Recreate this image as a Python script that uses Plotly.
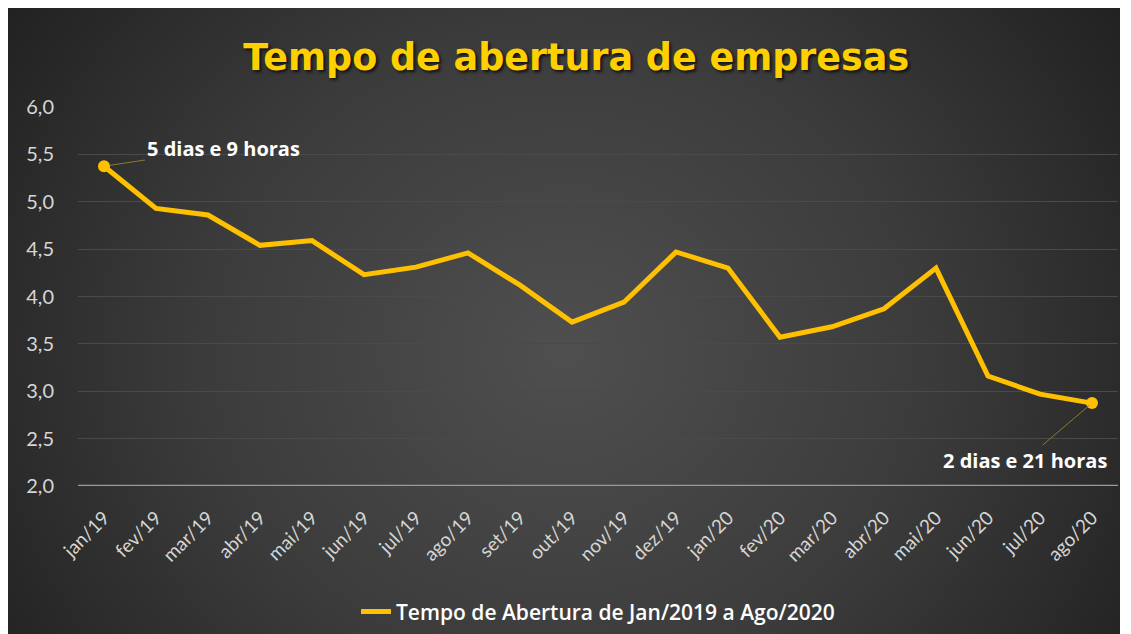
import base64
import plotly.graph_objects as go

months = ["jan/19", "fev/19", "mar/19", "abr/19", "mai/19", "jun/19", "jul/19", "ago/19",
          "set/19", "out/19", "nov/19", "dez/19", "jan/20", "fev/20", "mar/20", "abr/20",
          "mai/20", "jun/20", "jul/20", "ago/20"]
tempo = [5.375, 4.93, 4.86, 4.54, 4.59, 4.23, 4.31, 4.46, 4.12, 3.73,
         3.94, 4.47, 4.30, 3.57, 3.68, 3.87, 4.30, 3.16, 2.97, 2.875]
yticks = [2.0, 2.5, 3.0, 3.5, 4.0, 4.5, 5.0, 5.5, 6.0]
title_text = "Tempo de abertura de empresas"
series_name = "Tempo de Abertura de Jan/2019 a Ago/2020"
first_label = "5 dias e 9 horas"
last_label = "2 dias e 21 horas"

YEL = "#FFC000"
W, H = 1112, 626
ML, MR, MT, MB = 70, 2, 99, 148
PW, PH = W - ML - MR, H - MT - MB

svg = """<svg xmlns='http://www.w3.org/2000/svg' width='1112' height='626' viewBox='0 0 1112 626' preserveAspectRatio='none'>
<defs><radialGradient id='g' cx='0.5' cy='0.55' r='0.6' gradientTransform='translate(0.5,0.55) scale(1,1.6) translate(-0.5,-0.55)'>
<stop offset='0' stop-color='#4f4f4f'/><stop offset='0.55' stop-color='#3b3b3b'/><stop offset='1' stop-color='#222222'/></radialGradient></defs>
<rect width='1112' height='626' fill='url(#g)'/></svg>"""
bg_uri = "data:image/svg+xml;base64," + base64.b64encode(svg.encode()).decode()

fig = go.Figure()
fig.add_trace(go.Scatter(
    x=months, y=tempo, mode="lines", name=series_name,
    line=dict(color=YEL, width=5),
))
fig.add_trace(go.Scatter(
    x=[months[0], months[-1]], y=[tempo[0], tempo[-1]], mode="markers",
    marker=dict(color=YEL, size=12), showlegend=False, hoverinfo="skip",
))

lab_font = dict(color="white", size=20, family="Open Sans", weight=700)
fig.add_annotation(x=months[0], y=tempo[0], text=first_label,
                   showarrow=True, arrowhead=0, arrowwidth=1, arrowcolor="#8a7a30",
                   ax=119, ay=-18, xanchor="center", yanchor="middle", standoff=6,
                   font=lab_font)
fig.add_annotation(x=months[-1], y=tempo[-1], text=last_label,
                   showarrow=True, arrowhead=0, arrowwidth=1, arrowcolor="#8a7a30",
                   ax=-67, ay=57, xanchor="center", yanchor="middle", standoff=4,
                   font=lab_font)

fig.add_layout_image(dict(source=bg_uri, xref="paper", yref="paper",
                          x=-ML / PW, y=1 + MT / PH, sizex=W / PW, sizey=H / PH,
                          xanchor="left", yanchor="top", sizing="stretch", layer="below"))

fig.update_layout(
    width=W, height=H,
    margin=dict(l=ML, r=MR, t=MT, b=MB),
    paper_bgcolor="#2a2a2a", plot_bgcolor="rgba(0,0,0,0)",
    separators=",.",
    title=dict(text=title_text, x=0.511, xanchor="center", y=0.922, yanchor="middle",
               font=dict(family="DejaVu Sans", size=36.5, color="#FFD000", weight=700,
                         shadow="2px 2px 3px #111111")),
    showlegend=True,
    legend=dict(orientation="h", x=0.5, xanchor="center", y=-0.332, yanchor="middle",
                font=dict(color="white", size=21, family="Open Sans", weight=600),
                bgcolor="rgba(0,0,0,0)"),
    xaxis=dict(type="category", range=[-0.5, 19.5], tickangle=-45, showgrid=False, ticks="",
               tickfont=dict(color="#d6d6d6", size=19, family="Lato", weight=400),
               showline=False, zeroline=False, ticklabelstandoff=16),
    yaxis=dict(range=[2, 6], tickvals=yticks, tickformat=".1f", showgrid=True,
               gridcolor="#4a4a4a", gridwidth=1, zeroline=False, showline=False,
               tickfont=dict(color="#d6d6d6", size=20, family="Lato", weight=400),
               ticks="", ticklabelstandoff=23),
)
fig.add_hline(y=2, line=dict(color="#9a9a9a", width=2.5), layer="below")

fig.write_html("out.html")
